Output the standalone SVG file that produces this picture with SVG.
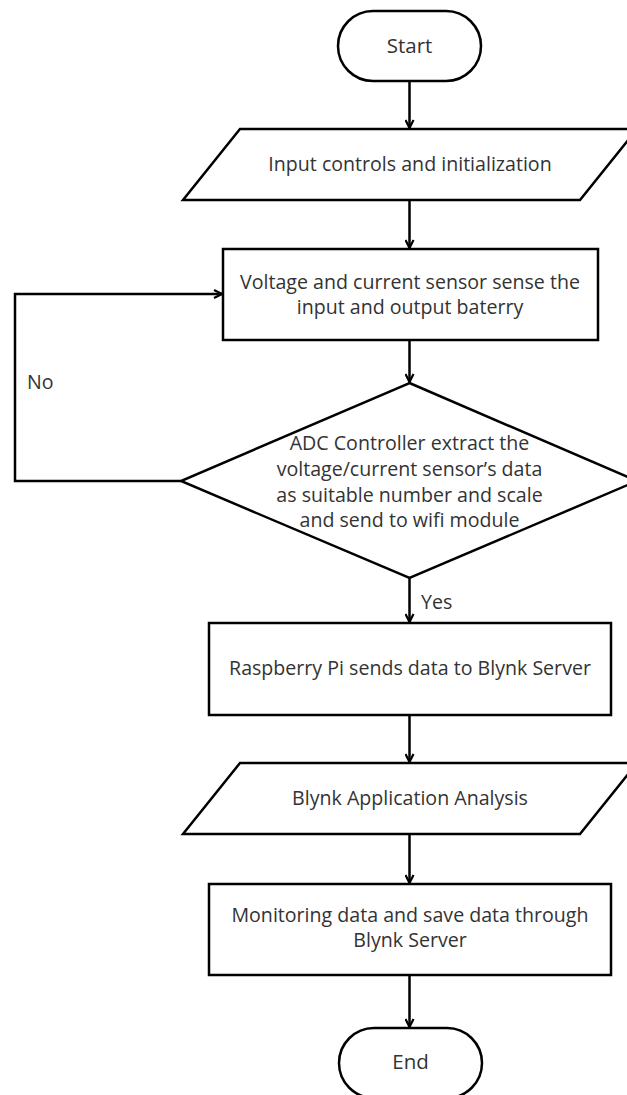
<svg xmlns="http://www.w3.org/2000/svg" width="627" height="1095" viewBox="0 0 627 1095">
  <defs>
    <marker id="arr" viewBox="0 0 10 10" refX="9" refY="5" markerWidth="10" markerHeight="10" markerUnits="userSpaceOnUse" orient="auto">
      <path d="M1,1 L9,5 L1,9" fill="none" stroke="#000" stroke-width="2.2"/>
    </marker>
  </defs>
  <style>
    .shape { fill: #fff; stroke: #000; stroke-width: 2.5; }
    .conn { fill: none; stroke: #000; stroke-width: 2.5; }
    .t { font-family: "Open Sans", "Liberation Sans", sans-serif; font-size: 19.6px; fill: #333; text-anchor: middle; }
    .lbl { font-family: "Open Sans", "Liberation Sans", sans-serif; font-size: 19.6px; fill: #333; }
    .term { font-family: "Open Sans", "Liberation Sans", sans-serif; font-size: 20.5px; fill: #333; text-anchor: middle; }
  </style>
  <rect width="627" height="1095" fill="#fff"/>

  <g id="connectors">
    <path class="conn" d="M409.5,81 V128" marker-end="url(#arr)"/>
    <path class="conn" d="M409.5,200 V248" marker-end="url(#arr)"/>
    <path class="conn" d="M409.5,340 V382" marker-end="url(#arr)"/>
    <path class="conn" d="M181,481 H15 V294 H222" marker-end="url(#arr)"/>
    <path class="conn" d="M409.5,578 V622" marker-end="url(#arr)"/>
    <path class="conn" d="M409.5,715 V762" marker-end="url(#arr)"/>
    <path class="conn" d="M409.5,834 V883" marker-end="url(#arr)"/>
    <path class="conn" d="M409.5,975 V1027" marker-end="url(#arr)"/>
    <text class="lbl" x="27" y="389">No</text>
    <text class="lbl" x="421" y="609">Yes</text>
  </g>

  <g id="start">
    <rect class="shape" x="338" y="11" width="143" height="70" rx="35" ry="35"/>
    <text class="term" x="409.5" y="53">Start</text>
  </g>

  <g id="input-controls">
    <polygon class="shape" points="240,129 637,129 580,200 183,200"/>
    <text class="t" x="410" y="171">Input controls and initialization</text>
  </g>

  <g id="sensor-sense">
    <rect class="shape" x="223" y="249" width="375" height="91"/>
    <text class="t" x="410" y="289">Voltage and current sensor sense the</text>
    <text class="t" x="410" y="314">input and output baterry</text>
  </g>

  <g id="adc-decision">
    <polygon class="shape" points="409.5,383 637,481 409.5,578 181,481"/>
    <text class="t" x="409.5" y="450">ADC Controller extract the</text>
    <text class="t" x="409.5" y="476">voltage/current sensor’s data</text>
    <text class="t" x="409.5" y="502">as suitable number and scale</text>
    <text class="t" x="409.5" y="527">and send to wifi module</text>
  </g>

  <g id="raspberry">
    <rect class="shape" x="209" y="623" width="402" height="92"/>
    <text class="t" x="410" y="675">Raspberry Pi sends data to Blynk Server</text>
  </g>

  <g id="blynk-analysis">
    <polygon class="shape" points="240,763 637,763 580,834 183,834"/>
    <text class="t" x="410" y="805">Blynk Application Analysis</text>
  </g>

  <g id="monitoring">
    <rect class="shape" x="209" y="884" width="402" height="91"/>
    <text class="t" x="410" y="922">Monitoring data and save data through</text>
    <text class="t" x="410" y="947">Blynk Server</text>
  </g>

  <g id="end">
    <rect class="shape" x="339" y="1028" width="143" height="70" rx="35" ry="35"/>
    <text class="term" x="410.5" y="1069">End</text>
  </g>
</svg>
